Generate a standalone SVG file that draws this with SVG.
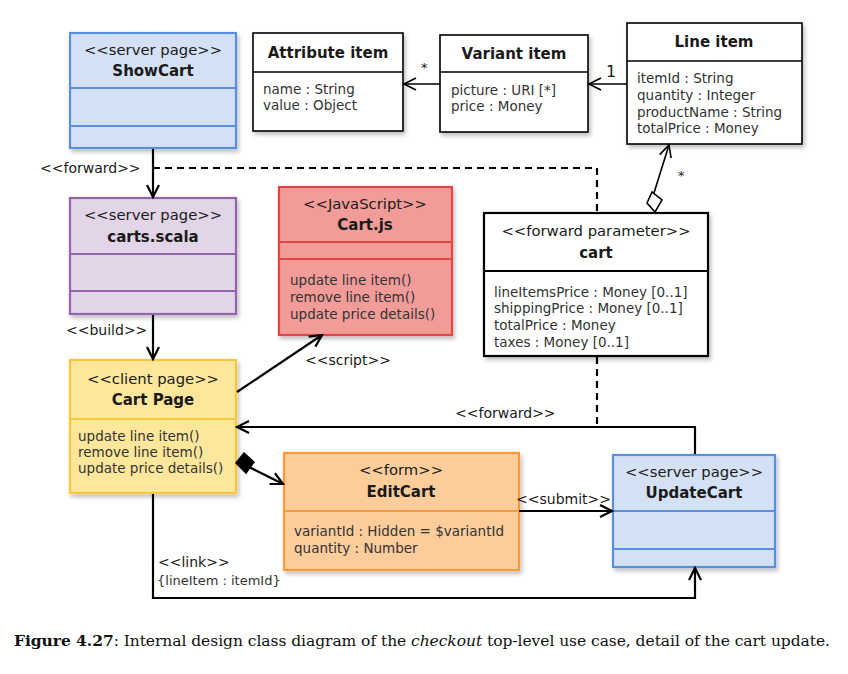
<svg xmlns="http://www.w3.org/2000/svg" width="848" height="674" viewBox="0 0 848 674">
<defs>
<filter id="sh" x="-10%" y="-10%" width="130%" height="130%">
<feDropShadow dx="2" dy="3" stdDeviation="2" flood-color="#000" flood-opacity="0.25"/>
</filter>
<marker id="open" markerWidth="16" markerHeight="16" refX="14" refY="8" orient="auto" markerUnits="userSpaceOnUse">
<path d="M2,2 L14,8 L2,14" fill="none" stroke="#000" stroke-width="1.6"/>
</marker>
<marker id="openB" markerWidth="18" markerHeight="18" refX="15" refY="9" orient="auto" markerUnits="userSpaceOnUse">
<path d="M3,3 L15,9 L3,15" fill="none" stroke="#000" stroke-width="2.2"/>
</marker>
</defs>
<style>
text{font-family:"DejaVu Sans","Liberation Sans",sans-serif;fill:#1a1a1a}
.st{font-size:14.8px;text-anchor:middle}
.nm{font-size:15px;font-weight:bold;text-anchor:middle}
.at{font-size:13.5px;fill:#333}
.lb{font-size:14px}
.blue{fill:#d4e1f5;stroke:#5b8fdb;stroke-width:2.2}
.purple{fill:#e2d5e8;stroke:#9366ab;stroke-width:2.2}
.yellow{fill:#fee79b;stroke:#f7c83e;stroke-width:2.2}
.red{fill:#f19c99;stroke:#e14545;stroke-width:2.2}
.orange{fill:#fdcc9b;stroke:#f69a3a;stroke-width:2.2}
.white{fill:#fff;stroke:#000;stroke-width:1.6}
.whiteB{fill:#fff;stroke:#000;stroke-width:2.2}
.ln{fill:none;stroke:#000;stroke-width:2.2}
.lnT{fill:none;stroke:#000;stroke-width:1.6}
.dash{fill:none;stroke:#000;stroke-width:2.2;stroke-dasharray:7,5}
</style>
<rect width="848" height="674" fill="#fff"/>

<g id="ShowCart">
<rect class="blue" x="70" y="33" width="166" height="115" filter="url(#sh)"/>
<line class="blue" x1="70" y1="88" x2="236" y2="88"/>
<line class="blue" x1="70" y1="126" x2="236" y2="126"/>
<text class="st" x="153" y="55">&lt;&lt;server page&gt;&gt;</text>
<text class="nm" x="153" y="76">ShowCart</text>
</g>

<g id="carts.scala">
<rect class="purple" x="70" y="198" width="166" height="116" filter="url(#sh)"/>
<line class="purple" x1="70" y1="254" x2="236" y2="254"/>
<line class="purple" x1="70" y1="291" x2="236" y2="291"/>
<text class="st" x="153" y="220">&lt;&lt;server page&gt;&gt;</text>
<text class="nm" x="153" y="242">carts.scala</text>
</g>

<g id="CartPage">
<rect class="yellow" x="70" y="360" width="166" height="133" filter="url(#sh)"/>
<line class="yellow" x1="70" y1="419" x2="236" y2="419"/>
<text class="st" x="153" y="384">&lt;&lt;client page&gt;&gt;</text>
<text class="nm" x="153" y="405">Cart Page</text>
<text class="at" x="78" y="441">update line item()</text>
<text class="at" x="78" y="457">remove line item()</text>
<text class="at" x="78" y="473">update price details()</text>
</g>

<g id="Cart.js">
<rect class="red" x="279" y="187" width="173" height="148" filter="url(#sh)"/>
<line class="red" x1="279" y1="242" x2="452" y2="242"/>
<line class="red" x1="279" y1="259" x2="452" y2="259"/>
<text class="st" x="365" y="209">&lt;&lt;JavaScript&gt;&gt;</text>
<text class="nm" x="365" y="230">Cart.js</text>
<text class="at" x="290" y="285">update line item()</text>
<text class="at" x="290" y="302">remove line item()</text>
<text class="at" x="290" y="319">update price details()</text>
</g>

<g id="AttributeItem">
<rect class="white" x="253" y="33" width="150" height="98" filter="url(#sh)"/>
<line class="lnT" x1="253" y1="72" x2="403" y2="72"/>
<text class="nm" x="328" y="58">Attribute item</text>
<text class="at" x="263" y="94">name : String</text>
<text class="at" x="263" y="110">value : Object</text>
</g>

<g id="VariantItem">
<rect class="white" x="440" y="35" width="148" height="97" filter="url(#sh)"/>
<line class="lnT" x1="440" y1="72" x2="588" y2="72"/>
<text class="nm" x="514" y="59">Variant item</text>
<text class="at" x="451" y="95">picture : URI [*]</text>
<text class="at" x="451" y="111">price : Money</text>
</g>

<g id="LineItem">
<rect class="white" x="627" y="23" width="175" height="121" filter="url(#sh)"/>
<line class="lnT" x1="627" y1="61" x2="802" y2="61"/>
<text class="nm" x="714" y="47">Line item</text>
<text class="at" x="637" y="83">itemId : String</text>
<text class="at" x="637" y="100">quantity : Integer</text>
<text class="at" x="637" y="117">productName : String</text>
<text class="at" x="637" y="133">totalPrice : Money</text>
</g>

<g id="cart">
<rect class="whiteB" x="484" y="213" width="224" height="143" filter="url(#sh)"/>
<line class="ln" x1="484" y1="271" x2="708" y2="271"/>
<text class="st" x="596" y="236">&lt;&lt;forward parameter&gt;&gt;</text>
<text class="nm" x="596" y="258">cart</text>
<text class="at" x="494" y="297">lineItemsPrice : Money [0..1]</text>
<text class="at" x="494" y="313">shippingPrice : Money [0..1]</text>
<text class="at" x="494" y="330">totalPrice : Money</text>
<text class="at" x="494" y="347">taxes : Money [0..1]</text>
</g>

<g id="EditCart">
<rect class="orange" x="284" y="453" width="235" height="117" filter="url(#sh)"/>
<line class="orange" x1="284" y1="511" x2="519" y2="511"/>
<text class="st" x="401" y="475">&lt;&lt;form&gt;&gt;</text>
<text class="nm" x="401" y="497">EditCart</text>
<text class="at" x="294" y="536">variantId : Hidden = $variantId</text>
<text class="at" x="294" y="553">quantity : Number</text>
</g>

<g id="UpdateCart">
<rect class="blue" x="613" y="455" width="162" height="112" filter="url(#sh)"/>
<line class="blue" x1="613" y1="511" x2="775" y2="511"/>
<line class="blue" x1="613" y1="549" x2="775" y2="549"/>
<text class="st" x="694" y="477">&lt;&lt;server page&gt;&gt;</text>
<text class="nm" x="694" y="498">UpdateCart</text>
</g>

<g id="connectors">
<line class="ln" x1="153" y1="149" x2="153" y2="197" marker-end="url(#openB)"/>
<path class="dash" d="M153,168 H597 V212"/>
<line class="ln" x1="153" y1="315" x2="153" y2="359" marker-end="url(#openB)"/>
<line class="ln" x1="237" y1="392" x2="322" y2="335" marker-end="url(#openB)"/>
<line class="lnT" x1="440" y1="84" x2="404" y2="84" marker-end="url(#open)"/>
<line class="lnT" x1="627" y1="84" x2="589" y2="84" marker-end="url(#open)"/>
<line class="lnT" x1="653" y1="196" x2="669" y2="145" marker-end="url(#open)"/>
<path d="M655,212 L647,203 L652,192 L662,200 Z" fill="#fff" stroke="#000" stroke-width="1.6"/>
<path class="dash" d="M597,357 V427"/>
<path class="ln" d="M695,454 V427 H237" marker-end="url(#openB)"/>
<path d="M236,463 L244,453 L254,462 L246,473 Z" fill="#000" stroke="#000" stroke-width="1.5"/>
<line class="ln" x1="249" y1="467" x2="283" y2="484" marker-end="url(#openB)"/>
<line class="ln" x1="519" y1="511" x2="612" y2="511" marker-end="url(#openB)"/>
<path class="ln" d="M153,494 V598 H695 V568" marker-end="url(#openB)"/>
<text class="lb" x="40" y="173">&lt;&lt;forward&gt;&gt;</text>
<text class="lb" x="66" y="335">&lt;&lt;build&gt;&gt;</text>
<text class="lb" x="305" y="365">&lt;&lt;script&gt;&gt;</text>
<text class="lb" x="455" y="418">&lt;&lt;forward&gt;&gt;</text>
<text class="lb" x="516" y="504">&lt;&lt;submit&gt;&gt;</text>
<text class="lb" x="158" y="567">&lt;&lt;link&gt;&gt;</text>
<text class="at" x="157" y="585" style="font-size:13px">{lineItem : itemId}</text>
<text x="421" y="72" style="font-size:13px">*</text>
<text x="606" y="77" style="font-size:16px">1</text>
<text x="678" y="180" style="font-size:13px">*</text>
</g>

<text x="14" y="646" textLength="816" lengthAdjust="spacing" style="font-family:'DejaVu Serif','Liberation Serif',serif;font-size:15.5px;fill:#111"><tspan font-weight="bold">Figure 4.27</tspan>: Internal design class diagram of the <tspan font-style="italic">checkout</tspan> top-level use case, detail of the cart update.</text>
</svg>
